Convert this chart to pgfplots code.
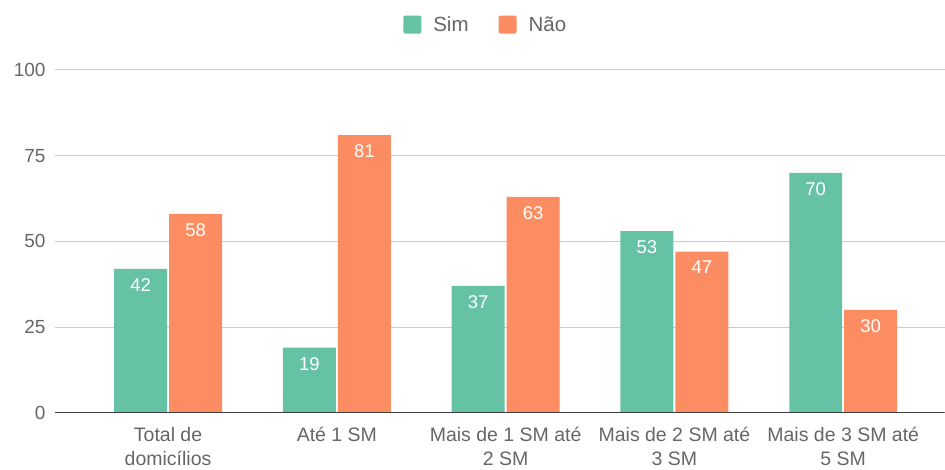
\documentclass[border=0pt]{standalone}
\usepackage{fontspec}
\setmainfont{Liberation Sans}
\usepackage{pgfplots}
\pgfplotsset{compat=1.18}
\definecolor{sim}{HTML}{66C2A5}
\definecolor{nao}{HTML}{FC8D62}
\definecolor{txt}{HTML}{666666}
\definecolor{gridc}{HTML}{CCCCCC}

\begin{document}
\begin{tikzpicture}
\begin{axis}[
    scale only axis,
    width=890pt, height=343pt,
    ybar=2pt,
    bar width=53pt,
    xmin=-0.67, xmax=4.6,
    ymin=0, ymax=100,
    ytick={0,25,50,75,100},
    xtick=data,
    xticklabels={{Total de\\domicílios},{Até 1 SM},{Mais de 1 SM até\\2 SM},{Mais de 2 SM até\\3 SM},{Mais de 3 SM até\\5 SM}},
    xticklabel style={align=center, font=\fontsize{19.5}{24}\selectfont, text=txt, yshift=-11pt},
    yticklabel style={font=\fontsize{19}{22}\selectfont, text=txt, xshift=-6pt},
    /pgf/number format/assume math mode=true,
    axis line style={draw=none},
    major tick length=0pt,
    ymajorgrids, xmajorgrids=false,
    grid style={color=gridc, line width=1pt},
    nodes near coords,
    every node near coord/.append style={anchor=north, yshift=-6pt, text=white, font=\fontsize{18.5}{22}\selectfont},
    legend style={at={(0.5,1.0)}, anchor=south, yshift=33pt, xshift=-14pt, draw=none, legend columns=2,
        font=\fontsize{20.5}{22}\selectfont, text=txt,
        /tikz/every odd column/.append style={column sep=10pt},
        /tikz/every even column/.append style={column sep=28pt}},
    legend image code/.code={\fill[#1, rounded corners=2pt] (0pt,-9pt) rectangle (18pt,9pt);},
]
\addplot[fill=sim, draw=none] coordinates {(0,42) (1,19) (2,37) (3,53) (4,70)};
\addplot[fill=nao, draw=none] coordinates {(0,58) (1,81) (2,63) (3,47) (4,30)};
\legend{Sim, Não}
\draw[color=black!75, line width=1.3pt] (rel axis cs:0,0) -- (rel axis cs:1,0);
\end{axis}
\path[use as bounding box] (-55pt,-57pt) rectangle (890pt,413pt);
\end{tikzpicture}
\end{document}
